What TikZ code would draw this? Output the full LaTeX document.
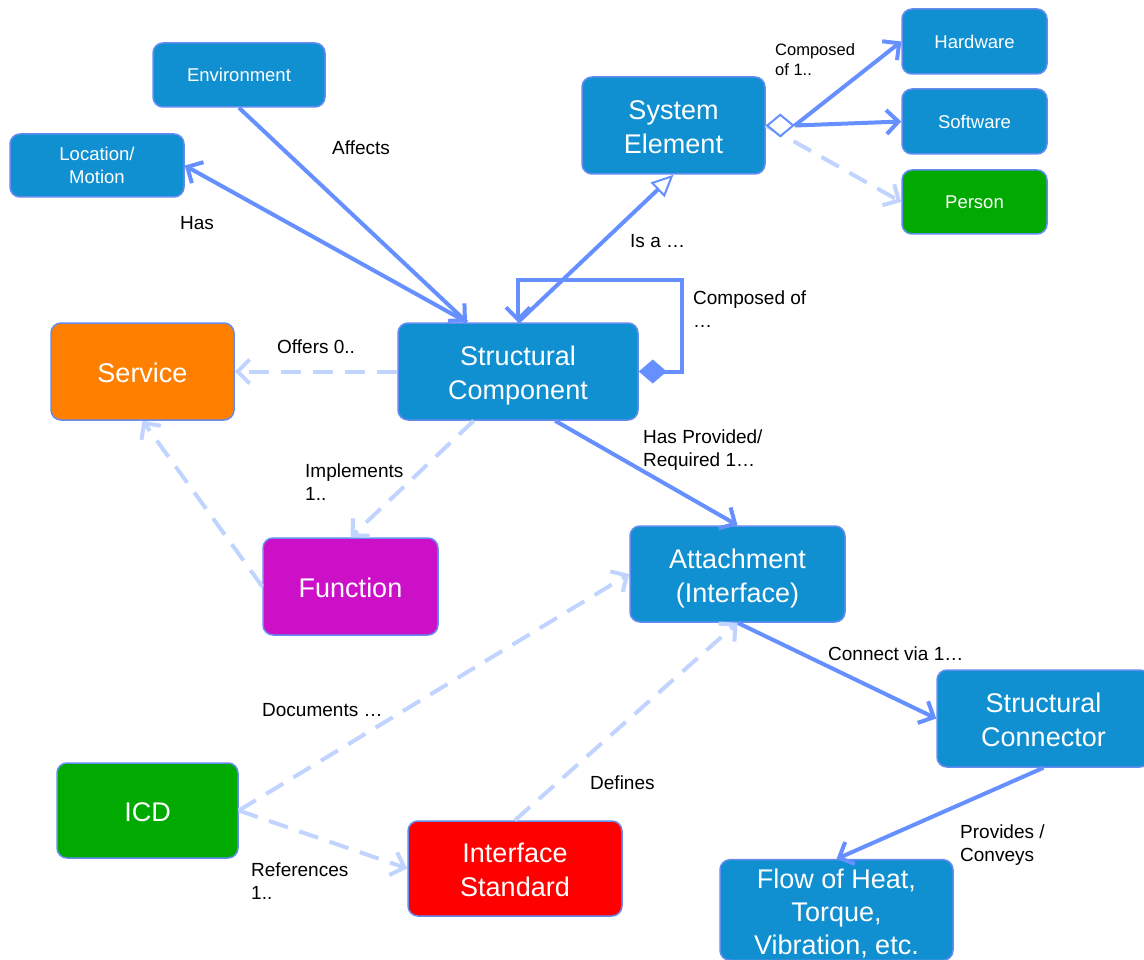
\documentclass[tikz,border=0pt]{standalone}
\usepackage{fontspec}
\setmainfont{Liberation Sans}
\usetikzlibrary{arrows.meta}
\definecolor{boxblue}{RGB}{16,144,208}
\definecolor{boxedge}{RGB}{100,140,240}
\definecolor{linkblue}{RGB}{102,144,255}
\definecolor{linklight}{RGB}{192,212,255}
\definecolor{svcorange}{RGB}{255,128,0}
\definecolor{fnmagenta}{RGB}{204,16,200}
\definecolor{docgreen}{RGB}{0,170,0}
\definecolor{stdred}{RGB}{255,0,0}

\begin{document}
\begin{tikzpicture}[x=1pt,y=-1pt,
  box/.style={draw=boxedge,line width=1.5pt,fill=boxblue,rounded corners=10pt,text=white,align=center,inner sep=0pt},
  big/.style={box,font=\fontsize{27}{34}\selectfont,
    execute at begin node={\rule{0pt}{#1}},execute at end node={\rule[-6pt]{0pt}{6pt}}},
  big/.default=28.6pt,
  small/.style={box,font=\fontsize{18.5}{23}\selectfont},
  lbl/.style={anchor=west,align=left,inner sep=0pt,font=\fontsize{19}{23}\selectfont},
  link/.style={draw=linkblue,line width=4pt,-{Straight Barb[length=12pt,width=24pt]}},
  weak/.style={draw=linklight,line width=4pt,dash pattern=on 20pt off 12pt,-{Straight Barb[length=12pt,width=24pt]}}]
\useasboundingbox (0,0) rectangle (1144,960);

% boxes
\node[small,minimum width=172pt,minimum height=64pt] (env) at (239,75) {Environment};
\node[small,minimum width=174pt,minimum height=63pt] (loc) at (97,165.5) {Location/\\Motion};
\node[big=62.6pt,minimum width=183pt,minimum height=97pt] (se) at (673.5,125.5) {System\\Element};
\node[small,minimum width=145pt,minimum height=65pt] (hw) at (974.5,41.5) {Hardware};
\node[small,minimum width=145pt,minimum height=65pt] (sw) at (974.5,121.5) {Software};
\node[small,fill=docgreen,minimum width=145pt,minimum height=64pt] (person) at (974.5,202) {Person};
\node[big=62.6pt,minimum width=240pt,minimum height=97pt] (sc) at (518,371.5) {Structural\\Component};
\node[big,fill=svcorange,minimum width=183pt,minimum height=97pt] (service) at (142.5,371.5) {Service};
\node[big,fill=fnmagenta,minimum width=175pt,minimum height=97pt] (func) at (350.5,586.5) {Function};
\node[big=62.6pt,minimum width=215pt,minimum height=96pt] (att) at (737.5,574) {Attachment\\(Interface)};
\node[big=62.6pt,minimum width=213pt,minimum height=97pt] (conn) at (1043.5,718.5) {Structural\\Connector};
\node[big=94.6pt,font=\fontsize{27}{33}\selectfont,minimum width=233pt,minimum height=96pt] (flow) at (836.5,910) {Flow of Heat,\\Torque,\\Vibration, etc.};
\node[big,fill=docgreen,minimum width=181pt,minimum height=95pt] (icd) at (147.5,810.5) {ICD};
\node[big=62.6pt,fill=stdred,minimum width=214pt,minimum height=95pt] (istd) at (515,868.5) {Interface\\Standard};

% links
\draw[link] (env.south) -- (sc.136);
\draw[link] (sc.136) -- (loc.east);
\draw[link,-{Triangle[open,fill=white,line width=2pt,length=22pt,width=20pt]}] (sc.north) -- (se.south);
\coordinate (loopc) at (682,280);
\draw[link,{Diamond[length=28pt,width=24pt]}-{Straight Barb[length=12pt,width=24pt]}] (sc.east) -| (loopc) -| (sc.north);
\draw[weak] (se.east) -- (person.west);
\draw[draw=linkblue,line width=2pt,{Diamond[open,fill=white,length=29pt,width=24pt]}-] (se.east) -- ++(29,0) coordinate (sedia);
\draw[link] (sedia) -- (hw.west);
\draw[link] (sedia) -- (sw.west);
\draw[weak] (sc.west) -- (service.east);
\draw[weak] (sc.228) -- (func.north);
\draw[weak] (func.west) -- (service.south);
\draw[link] (sc.307) -- (att.north);
\draw[link] (att.south) -- (conn.west);
\draw[link] (conn.south) -- (flow.north);
\draw[weak] (icd.east) -- (att.west);
\draw[weak] (icd.east) -- (istd.west);
\draw[weak] (istd.north) -- (att.south);

% labels
\node[lbl] (lAffects) at (332,148) {Affects};
\node[lbl] (lHas) at (180,223) {Has};
\node[lbl] (lIsa) at (630,241) {Is a …};
\node[lbl] (lComp) at (693,309) {Composed of\\…};
\node[lbl,font=\fontsize{16.5}{20}\selectfont] (lCompOf) at (775,60) {Composed\\of 1..};
\node[lbl] (lOffers) at (277,347) {Offers 0..};
\node[lbl] (lImpl) at (305,482) {Implements\\1..};
\node[lbl] (lProv) at (643,450) {Has Provided/\\Required 1…};
\node[lbl] (lConn) at (828,654) {Connect via 1…};
\node[lbl] (lDoc) at (262,710) {Documents …};
\node[lbl] (lDef) at (590,783) {Defines};
\node[lbl] (lRef) at (251,881) {References\\1..};
\node[lbl] (lConv) at (960,845) {Provides /\\Conveys};
\end{tikzpicture}
\end{document}
